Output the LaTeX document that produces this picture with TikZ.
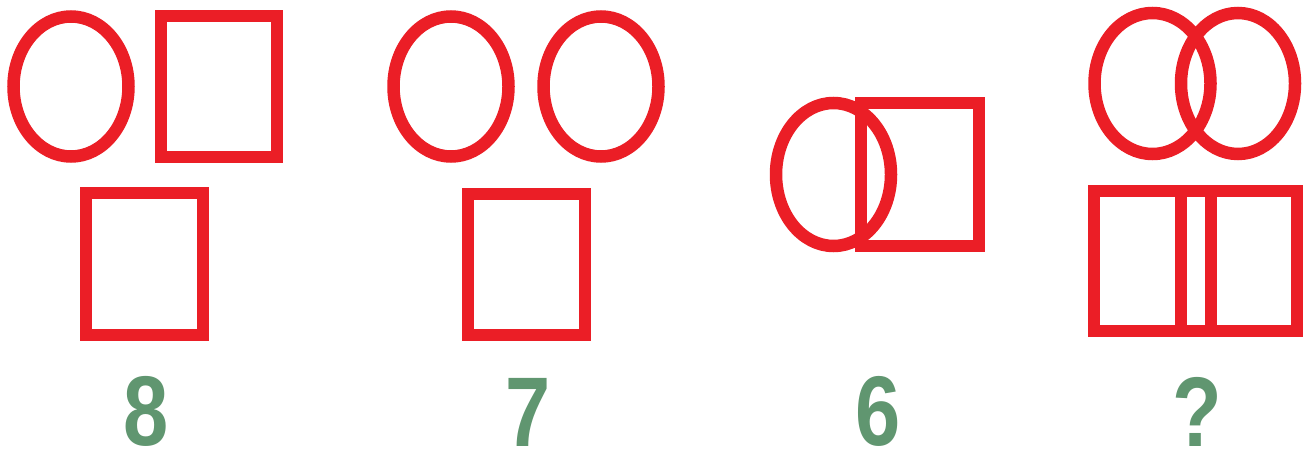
\documentclass[tikz,border=0pt]{standalone}
\usepackage{fontspec}
\setmainfont{Liberation Sans}
\definecolor{shapered}{RGB}{235,30,38}
\definecolor{numgreen}{RGB}{96,150,112}
\begin{document}
\begin{tikzpicture}[x=1pt,y=-1pt,
  fig/.style={draw=shapered,line width=12.5pt},
  num/.style={text=numgreen,inner sep=0pt,font=\fontsize{99}{99}\selectfont\bfseries,xscale=0.82,transform shape}]
\useasboundingbox[fill=white] (0,0) rectangle (1314,455);
% group 1
\draw[fig] (71,86.5) ellipse [x radius=57.5pt, y radius=70pt];
\draw[fig] (161,16) rectangle (277,157);
\draw[fig] (86,193) rectangle (203,335);
\node[num] (n1) at (146,411) {8};
% group 2
\draw[fig] (451,86.5) ellipse [x radius=57.5pt, y radius=70pt];
\draw[fig] (601,86.5) ellipse [x radius=57.5pt, y radius=70pt];
\draw[fig] (468,194) rectangle (585,335);
\node[num] (n2) at (528,412) {7};
% group 3
\draw[fig] (833.5,174.5) ellipse [x radius=57.5pt, y radius=71.5pt];
\draw[fig] (861,103) rectangle (979,246);
\node[num] (n3) at (878,411) {6};
% group 4
\draw[fig] (1152.5,83.5) ellipse [x radius=58pt, y radius=70.5pt];
\draw[fig] (1238,83.5) ellipse [x radius=57pt, y radius=70.5pt];
\draw[fig] (1094,191) rectangle (1297,331);
\draw[fig] (1181,191) -- (1181,331);
\draw[fig] (1211,191) -- (1211,331);
\node[num] (n4) at (1197,412) {?};
\end{tikzpicture}
\end{document}
